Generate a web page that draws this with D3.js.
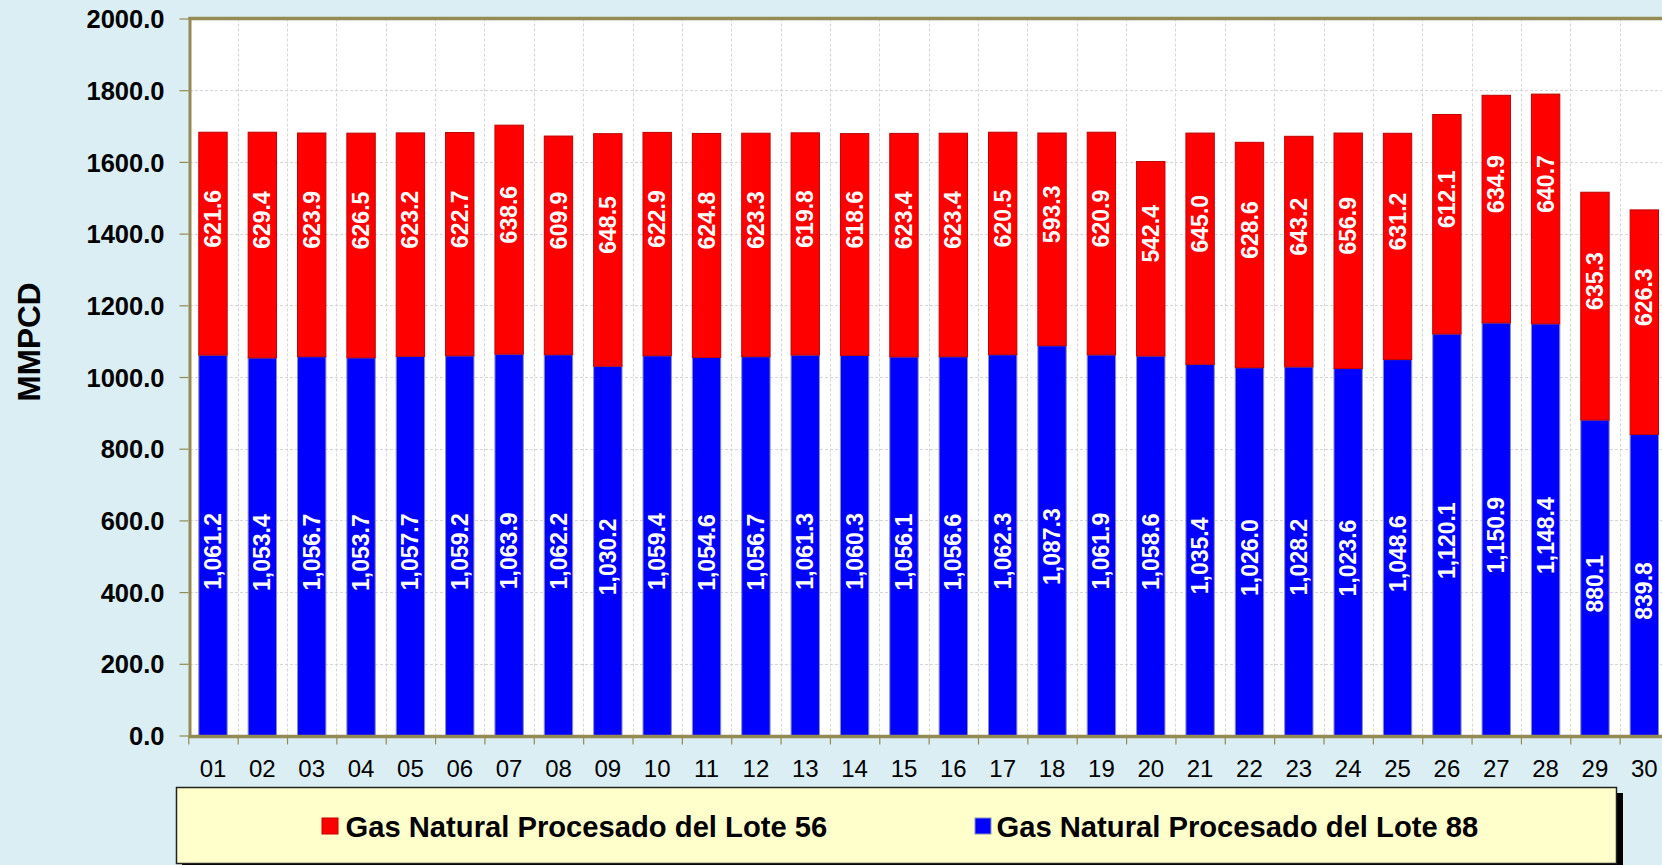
<!DOCTYPE html>
<html>
<head>
<meta charset="utf-8">
<script src="https://cdn.jsdelivr.net/npm/d3@7"></script>
<style>
  html, body { margin: 0; padding: 0; background: #DAEEF3; overflow: hidden; }
  svg { display: block; font-family: "Liberation Sans", Arial, sans-serif; }
</style>
</head>
<body>
<svg id="chart" width="1662" height="865"></svg>
<script>
const days = ["01","02","03","04","05","06","07","08","09","10","11","12","13","14","15","16","17","18","19","20","21","22","23","24","25","26","27","28","29","30"];
const lote88 = [1061.2,1053.4,1056.7,1053.7,1057.7,1059.2,1063.9,1062.2,1030.2,1059.4,1054.6,1056.7,1061.3,1060.3,1056.1,1056.6,1062.3,1087.3,1061.9,1058.6,1035.4,1026.0,1028.2,1023.6,1048.6,1120.1,1150.9,1148.4,880.1,839.8];
const lote56 = [621.6,629.4,623.9,626.5,623.2,622.7,638.6,609.9,648.5,622.9,624.8,623.3,619.8,618.6,623.4,623.4,620.5,593.3,620.9,542.4,645.0,628.6,643.2,656.9,631.2,612.1,634.9,640.7,635.3,626.3];
const yTicks = [0,200,400,600,800,1000,1200,1400,1600,1800,2000];
const seriesNames = ["Gas Natural Procesado del Lote 56", "Gas Natural Procesado del Lote 88"];
const yTitle = "MMPCD";

(function () {
const svg = d3.select("#chart");
const olive = "#948A54";
const pLeft = 190, pRight = 1669, pTop = 18.5, pBottom = 735.5;
const x0 = 188.3;

const x = d3.scaleBand().domain(days).range([x0, pRight]).paddingInner(0.425).paddingOuter(0.2125);
const xb = d3.scaleLinear().domain([0, days.length]).range([x0, pRight]);
const y = d3.scaleLinear().domain([0, 2000]).range([pBottom, pTop]);

// plot background
svg.append("rect").attr("x", pLeft).attr("y", pTop).attr("width", pRight - pLeft).attr("height", pBottom - pTop).attr("fill", "#ffffff");

// gridlines
const grid = svg.append("g").attr("stroke", "#d6d6d6").attr("stroke-width", 1).attr("stroke-dasharray", "3,2");
grid.selectAll("line.h").data(yTicks.slice(1, -1)).join("line")
  .attr("x1", pLeft).attr("x2", pRight).attr("y1", d => Math.round(y(d)) + 0.5).attr("y2", d => Math.round(y(d)) + 0.5);
grid.selectAll("line.v").data(d3.range(1, days.length)).join("line")
  .attr("x1", d => Math.round(xb(d)) + 0.5).attr("x2", d => Math.round(xb(d)) + 0.5).attr("y1", pTop).attr("y2", pBottom);

// stacked data
const rows = days.map((d, i) => ({ day: d, l88: lote88[i], l56: lote56[i] }));
const stack = d3.stack().keys(["l88", "l56"])(rows);
const fills = { l88: "#0000FF", l56: "#FF0000" };
const strokes = { l88: "#8a8fb8", l56: "#c00000" };

const bars = svg.append("g");
stack.forEach(layer => {
  bars.append("g").selectAll("rect").data(layer).join("rect")
    .attr("x", d => x(d.data.day))
    .attr("width", x.bandwidth())
    .attr("y", d => y(d[1]))
    .attr("height", d => y(d[0]) - y(d[1]))
    .attr("fill", fills[layer.key])
    .attr("stroke", strokes[layer.key])
    .attr("stroke-width", 1);
});

// labels
const fmt88 = d3.format(",.1f"), fmt56 = d3.format(".1f");
const labels = svg.append("g").attr("fill", "#ffffff").attr("font-weight", "bold").attr("font-size", "23px").attr("text-anchor", "middle");
stack.forEach(layer => {
  const isRed = layer.key === "l56";
  labels.append("g").selectAll("text").data(layer).join("text")
    .attr("transform", d => {
      const cx = x(d.data.day) + x.bandwidth() / 2;
      const cy = (y(d[0]) + y(d[1])) / 2 + (isRed ? -25 : 6);
      return `translate(${cx},${cy}) rotate(-90)`;
    })
    .attr("dy", "0.35em")
    .text(d => isRed ? fmt56(d.data.l56) : fmt88(d.data.l88));
});

// frame
svg.append("line").attr("x1", pLeft - 1.5).attr("x2", pRight).attr("y1", pTop).attr("y2", pTop).attr("stroke", olive).attr("stroke-width", 3.5);
svg.append("line").attr("x1", pLeft).attr("x2", pLeft).attr("y1", pTop - 1.5).attr("y2", pBottom + 1.5).attr("stroke", olive).attr("stroke-width", 3);

// y axis
const yAxis = svg.append("g").attr("transform", `translate(${pLeft - 1.5},0)`)
  .call(d3.axisLeft(y).tickValues(yTicks).tickFormat(d3.format(".1f")).tickSize(9).tickPadding(15));
yAxis.select(".domain").remove();
yAxis.selectAll(".tick line").attr("stroke", olive).attr("stroke-width", 1.2);
yAxis.selectAll(".tick text").attr("font-size", "25.5px").attr("font-weight", "bold").attr("fill", "#000")
  .attr("font-family", "'Liberation Sans', Arial, sans-serif").attr("dy", "0.36em");

// x axis ticks at boundaries
const xTickAxis = svg.append("g").attr("transform", `translate(0,${pBottom + 1})`)
  .call(d3.axisBottom(xb).tickValues(d3.range(0, days.length + 1)).tickFormat("").tickSize(8));
xTickAxis.select(".domain").remove();
xTickAxis.selectAll(".tick line").attr("stroke", olive).attr("stroke-width", 1.2);

// x labels
const xAxis = svg.append("g").attr("transform", `translate(0,${pBottom})`)
  .call(d3.axisBottom(x).tickSize(0).tickPadding(29));
xAxis.select(".domain").remove();
xAxis.selectAll(".tick text").attr("font-size", "24px").attr("fill", "#000")
  .attr("font-family", "'Liberation Sans', Arial, sans-serif").attr("dy", "0.5em");

// bottom axis line
svg.append("line").attr("x1", pLeft - 1.5).attr("x2", pRight).attr("y1", pBottom + 1).attr("y2", pBottom + 1).attr("stroke", olive).attr("stroke-width", 3.5);

// y title
svg.append("text").attr("transform", "translate(29,342) rotate(-90)")
  .attr("text-anchor", "middle").attr("dy", "0.36em")
  .attr("font-size", "31.5px").attr("font-weight", "bold").attr("fill", "#000")
  .text(yTitle);

// legend
const lg = svg.append("g");
lg.append("rect").attr("x", 182).attr("y", 793).attr("width", 1441).attr("height", 80).attr("fill", "#000");
lg.append("rect").attr("x", 176.5).attr("y", 787.5).attr("width", 1440).attr("height", 76).attr("fill", "#FFFFCC").attr("stroke", "#222").attr("stroke-width", 1.5);
const legendItems = [
  { name: seriesNames[0], fill: "#FF0000", stroke: "#c00000", sx: 322, tx: 345.5 },
  { name: seriesNames[1], fill: "#0000FF", stroke: "#8a8fb8", sx: 975, tx: 996.5 }
];
legendItems.forEach(it => {
  lg.append("rect").attr("x", it.sx).attr("y", 818).attr("width", 16).attr("height", 16).attr("fill", it.fill).attr("stroke", it.stroke).attr("stroke-width", 1);
  lg.append("text").attr("x", it.tx).attr("y", 836.5).attr("font-size", "29.2px").attr("font-weight", "bold").attr("fill", "#000").text(it.name);
});
})();
</script>
</body>
</html>
